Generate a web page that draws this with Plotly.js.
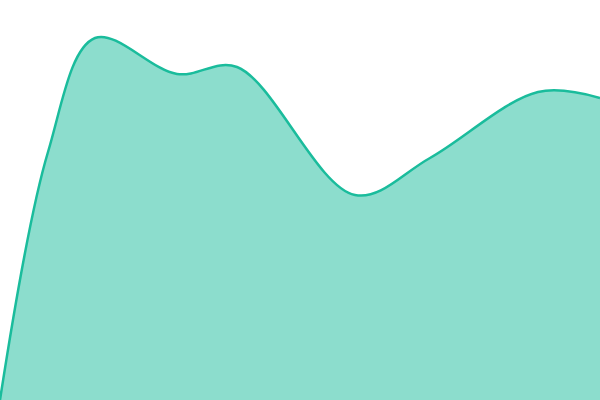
<!DOCTYPE html>
<html>
<head>
<meta charset="utf-8">
<script src="https://cdn.plot.ly/plotly-3.0.1.min.js"></script>
<style>
  html, body { margin: 0; padding: 0; background: #fff; }
  #chart { width: 600px; height: 400px; }
</style>
</head>
<body>
<div id="chart"></div>
<script>
// sample positions and heights
var xs = [0, 48, 95, 177, 237, 355, 430, 538, 600]
var ys = [0, 248, 362, 326, 333, 205, 242, 308, 302]

var trace = {
    x: xs,
    y: ys,
    type: 'scatter',
    mode: 'lines',
    fill: 'tozeroy',
    fillcolor: 'rgba(26,188,156,0.5)',
    line: {color: '#1abc9c', width: 2.5, shape: 'spline', smoothing: 1},
    hoverinfo: 'none',
}

var layout = {
    showlegend: false,
    margin: {l: 0, r: 0, t: 0, b: 0},
    width: 600,
    height: 400,
    paper_bgcolor: '#fff',
    plot_bgcolor: '#fff',
    xaxis: {range: [0, 600], visible: false, fixedrange: true},
    yaxis: {range: [0, 400], visible: false, fixedrange: true},
}

Plotly.newPlot('chart', [trace], layout, {displayModeBar: false, staticPlot: true})
</script>
</body>
</html>
